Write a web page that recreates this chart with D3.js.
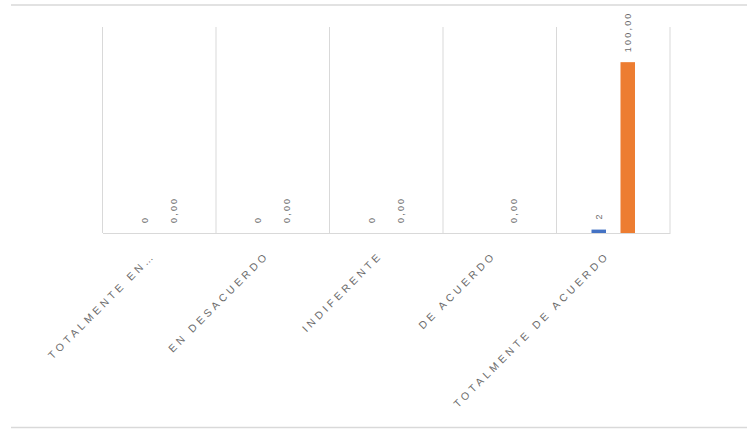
<!DOCTYPE html>
<html>
<head>
<meta charset="utf-8">
<script src="https://cdn.jsdelivr.net/npm/d3@7"></script>
<style>
  html, body { margin: 0; padding: 0; background: #fff; }
  svg { display: block; }
  text { font-family: "Liberation Sans", "Open Sans", sans-serif; fill: #6b6b6b; }
</style>
</head>
<body>
<svg id="chart" width="747" height="429"></svg>
<script>
// Response categories (Likert scale)
const categories = ["TOTALMENTE EN…", "EN DESACUERDO", "INDIFERENTE", "DE ACUERDO", "TOTALMENTE DE ACUERDO"];
// Number of answers per category (blank where no label is shown)
const frecuencia = [0, 0, 0, null, 2];
// Percentage of answers per category
const porcentaje = [0, 0, 0, 0, 100];
const seriesNames = ["frecuencia", "porcentaje"];
const seriesColors = ["#4472C4", "#ED7D31"];

const svg = d3.select("#chart");
const W = 747, H = 429;
const plot = { left: 102.5, right: 670, top: 27, bottom: 233 };

const esLocale = d3.formatLocale({ decimal: ",", thousands: ".", grouping: [3], currency: ["", " €"] });
const fmtPct = esLocale.format(".2f");
const fmtInt = esLocale.format("d");

// Chart-area border lines
svg.append("line").attr("x1", 11).attr("x2", W).attr("y1", 5).attr("y2", 5)
  .attr("stroke", "#d9d9d9").attr("stroke-width", 1.5);
svg.append("line").attr("x1", 11).attr("x2", W).attr("y1", 427.5).attr("y2", 427.5)
  .attr("stroke", "#d9d9d9").attr("stroke-width", 1.5);

const x = d3.scaleBand().domain(categories).range([plot.left, plot.right]).padding(0);
const bw = x.bandwidth();
const xs = d3.scaleBand().domain(seriesNames)
  .range([bw / 2 - 29, bw / 2 + 29]).paddingInner(0.5).paddingOuter(0.25);
const y = d3.scaleLinear().domain([0, 120]).range([plot.bottom, plot.top + 1]);

// Vertical separators between categories
const bounds = categories.map(c => x(c)).concat([plot.right]);
svg.append("g").selectAll("line").data(bounds).join("line")
  .attr("x1", d => d).attr("x2", d => d)
  .attr("y1", plot.top).attr("y2", plot.bottom)
  .attr("stroke", "#d9d9d9").attr("stroke-width", 1);

// Category axis
const xAxis = d3.axisBottom(x).tickSize(0).tickPadding(0);
const gx = svg.append("g").attr("transform", `translate(0,${plot.bottom})`).call(xAxis);
gx.select(".domain").attr("stroke", "#d9d9d9").attr("stroke-width", 1.2);
gx.selectAll(".tick text")
  .attr("text-anchor", "end")
  .attr("dy", 0)
  .attr("y", 0)
  .attr("transform", "translate(-3,23) rotate(-45)")
  .style("font-family", "'Liberation Sans', sans-serif")
  .style("font-size", "10.5px")
  .style("letter-spacing", "3.5px")
  .style("fill", "#6b6b6b");

// Bars
const rows = categories.map((c, i) => ({ cat: c, vals: [frecuencia[i], porcentaje[i]] }));
const groups = svg.append("g").selectAll("g").data(rows).join("g")
  .attr("transform", d => `translate(${x(d.cat)},0)`);

groups.selectAll("rect")
  .data(d => d.vals.map((v, j) => ({ v, s: seriesNames[j], j })).filter(e => e.v !== null))
  .join("rect")
  .attr("x", e => xs(e.s))
  .attr("width", xs.bandwidth())
  .attr("y", e => y(e.v))
  .attr("height", e => y(0) - y(e.v))
  .attr("fill", e => seriesColors[e.j]);

// Value labels, rotated
groups.selectAll("text.lbl")
  .data(d => d.vals.map((v, j) => ({ v, s: seriesNames[j], j })).filter(e => e.v !== null))
  .join("text")
  .attr("class", "lbl")
  .attr("transform", e => `translate(${xs(e.s) + xs.bandwidth() / 2},${y(e.v) - 10}) rotate(-90)`)
  .attr("dy", "0.35em")
  .attr("text-anchor", "start")
  .style("font-size", "9px")
  .style("letter-spacing", "2.2px")
  .text(e => e.j === 0 ? fmtInt(e.v) : fmtPct(e.v));
</script>
</body>
</html>
